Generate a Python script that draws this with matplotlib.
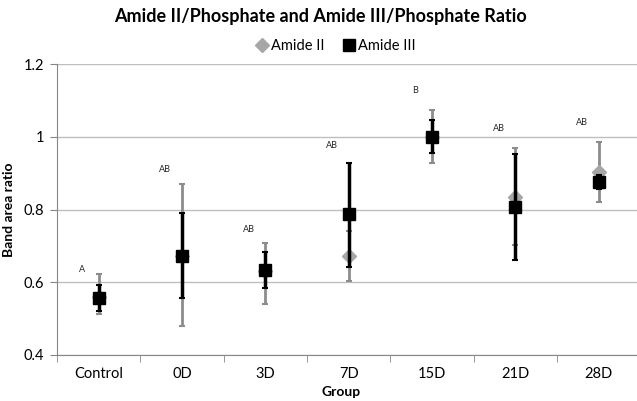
import numpy as np
import matplotlib
matplotlib.use('Agg')
import matplotlib.pyplot as plt
from matplotlib.ticker import FixedLocator
from matplotlib.lines import Line2D

plt.rcParams['font.family'] = ['Lato', 'DejaVu Sans']

groups = ['Control', '0D', '3D', '7D', '15D', '21D', '28D']

# Amide II / Phosphate
amide2 = [0.56, 0.672, 0.630, 0.672, 1.000, 0.835, 0.904]
amide2_up = [0.062, 0.197, 0.077, 0.070, 0.073, 0.133, 0.082]
amide2_lo = [0.047, 0.192, 0.091, 0.069, 0.073, 0.133, 0.083]

# Amide III / Phosphate
amide3 = [0.558, 0.672, 0.634, 0.787, 1.000, 0.806, 0.875]
amide3_up = [0.034, 0.118, 0.050, 0.140, 0.046, 0.147, 0.020]
amide3_lo = [0.036, 0.116, 0.049, 0.144, 0.046, 0.145, 0.020]

# significance letters and their heights
letters = ['A', 'AB', 'AB', 'AB', 'B', 'AB', 'AB']
letter_y = [0.634, 0.911, 0.746, 0.977, 1.128, 1.024, 1.040]

x = np.arange(len(groups))

fig = plt.figure(figsize=(6.37, 4.01), dpi=100)
ax = fig.add_axes([57 / 637, 1 - 355 / 401, 580 / 637, 291 / 401])

ax.errorbar(x, amide2, yerr=[amide2_lo, amide2_up], fmt='D', color='#A6A6A6',
            ecolor='#8C8C8C', elinewidth=2, capsize=2.5, capthick=1.5,
            markersize=7, zorder=3)
ax.errorbar(x, amide3, yerr=[amide3_lo, amide3_up], fmt='s', color='black',
            ecolor='black', elinewidth=2.5, capsize=2.5, capthick=1.5,
            markersize=9, zorder=4)

for i in range(len(groups)):
    ax.text(x[i] - 0.2, letter_y[i], letters[i], fontsize=6.5, ha='center',
            va='center', color='#262626')

ax.set_xlim(-0.5, 6.46)
ax.set_ylim(0.4, 1.2)
ax.set_yticks([0.4, 0.6, 0.8, 1.0, 1.2])
ax.set_yticklabels(['0.4', '0.6', '0.8', '1', '1.2'])
ax.set_xticks(x)
ax.set_xticklabels(groups)
ax.xaxis.set_minor_locator(FixedLocator(np.arange(-0.5, 6.6, 1)))
ax.tick_params(axis='x', which='major', length=0, pad=9, labelsize=10.5)
ax.tick_params(axis='x', which='minor', length=5, color='#868686', direction='out')
ax.tick_params(axis='y', length=5, color='#868686', labelsize=10.5, pad=4)

ax.grid(axis='y', color='#BEBEBE', linewidth=1)
ax.set_axisbelow(True)
for s in ['top', 'right']:
    ax.spines[s].set_visible(False)
for s in ['left', 'bottom']:
    ax.spines[s].set_color('#868686')

ax.set_xlabel('Group', fontsize=10, fontweight='bold')
ax.xaxis.set_label_coords(0.5 - 6 / 580, -31 / 291)
ax.set_ylabel('Band area ratio', fontsize=10, fontweight='bold')
ax.yaxis.set_label_coords(-42 / 580, 0.5)

fig.suptitle('Amide II/Phosphate and Amide III/Phosphate Ratio', x=320 / 637,
             y=1 - 8 / 401, fontsize=13, fontweight='bold', va='top')
handles = [Line2D([], [], marker='D', color='#A6A6A6', linestyle='none', markersize=7),
           Line2D([], [], marker='s', color='black', linestyle='none', markersize=9)]
fig.legend(handles=handles, labels=['Amide II', 'Amide III'],
           loc='center', bbox_to_anchor=(335 / 637, 1 - 46 / 401), ncol=2,
           frameon=False, fontsize=10.5, handletextpad=0.1, columnspacing=1.2,
           handlelength=1.0)

fig.savefig('out.png', dpi=100)
